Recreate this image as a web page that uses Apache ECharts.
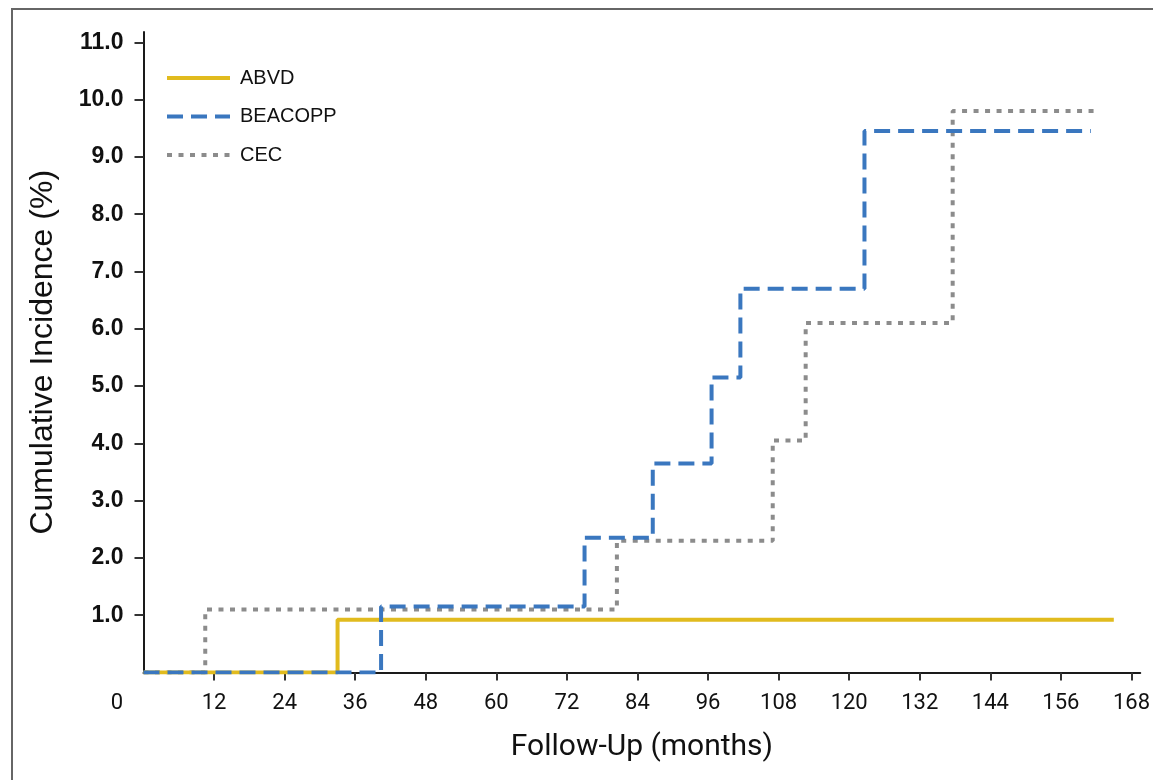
<!DOCTYPE html>
<html>
<head>
<meta charset="utf-8">
<script src="https://cdn.jsdelivr.net/npm/echarts@6/dist/echarts.min.js"></script>
<style>
  html, body { margin: 0; padding: 0; background: #fff; }
  #chart { width: 1153px; height: 780px; }
</style>
</head>
<body>
<div id="chart"></div>
<script>
// cumulative incidence (%) by follow-up month
var abvdMonths = [0, 33, 165];
var abvdIncidence = [0, 0.92, 0.92];

var beacoppMonths = [0, 40.4, 75, 86.6, 96.6, 101.5, 122.6, 161.1];
var beacoppIncidence = [0, 1.15, 2.35, 3.65, 5.15, 6.7, 9.45, 9.45];

var cecMonths = [0, 10.5, 80.5, 107, 112.6, 137.6, 162.2];
var cecIncidence = [0, 1.1, 2.3, 4.05, 6.1, 9.8, 9.8];

var xTicks = [12, 24, 36, 48, 60, 72, 84, 96, 108, 120, 132, 144, 156, 168];
var yTicks = [1, 2, 3, 4, 5, 6, 7, 8, 9, 10, 11];

function pairs(xs, ys) {
  return xs.map(function (x, i) { return [x, ys[i]]; });
}

var chart = echarts.init(document.getElementById('chart'));

var axisColor = '#1a1a1a';

var option = {
  animation: false,
  backgroundColor: '#fff',
  grid: {left: 143.5, right: 10, top: 32, bottom: 107.5},
  legend: {
    orient: 'vertical',
    left: 160,
    top: 63,
    itemWidth: 63,
    itemHeight: 20,
    itemGap: 18.5,
    itemStyle: {opacity: 0},
    lineStyle: {width: 4},
    textStyle: {fontFamily: 'Liberation Sans', fontSize: 20, color: '#111', padding: [0, 0, 0, 5]},
    data: ['ABVD', 'BEACOPP', 'CEC']
  },
  xAxis: {
    type: 'value',
    min: 0,
    max: 169.5,
    name: 'Follow-Up (months)',
    nameLocation: 'middle',
    nameGap: 60,
    nameTextStyle: {fontFamily: 'Roboto', fontSize: 30, color: '#111'},
    splitLine: {show: false},
    axisLine: {lineStyle: {color: axisColor, width: 2}},
    axisTick: {
      length: 8,
      lineStyle: {color: '#333', width: 2},
      customValues: xTicks
    },
    axisLabel: {
      margin: 20,
      fontFamily: 'Roboto',
      fontSize: 22,
      color: '#111',
      customValues: [0].concat(xTicks),
      formatter: function (v) {
        return v === 0 ? '{z|0}' : String(v);
      },
      rich: {
        z: {fontFamily: 'Roboto', fontSize: 22, color: '#111', padding: [0, 53, 0, 0]}
      }
    }
  },
  yAxis: {
    type: 'value',
    min: 0,
    max: 11.18,
    name: 'Cumulative Incidence (%)',
    nameLocation: 'middle',
    nameGap: 84,
    nameTextStyle: {fontFamily: 'Liberation Sans', fontSize: 32, color: '#111'},
    splitLine: {show: false},
    axisLine: {show: true, lineStyle: {color: axisColor, width: 2}},
    axisTick: {
      show: true,
      length: 9,
      lineStyle: {color: '#333', width: 2},
      customValues: yTicks
    },
    axisLabel: {
      margin: 20,
      fontFamily: 'Liberation Sans',
      fontWeight: 'bold',
      fontSize: 23,
      color: '#111',
      customValues: yTicks,
      formatter: function (v) { return v.toFixed(1); }
    }
  },
  series: [
    {
      name: 'ABVD',
      type: 'line',
      step: 'end',
      showSymbol: false,
      symbol: 'none',
      z: 3,
      lineStyle: {color: '#E1BB1E', width: 4},
      itemStyle: {color: '#E1BB1E'},
      data: pairs(abvdMonths, abvdIncidence)
    },
    {
      name: 'BEACOPP',
      type: 'line',
      step: 'end',
      showSymbol: false,
      symbol: 'none',
      z: 4,
      lineStyle: {color: '#3A77BF', width: 4, type: [16, 8]},
      itemStyle: {color: '#3A77BF'},
      data: pairs(beacoppMonths, beacoppIncidence)
    },
    {
      name: 'CEC',
      type: 'line',
      step: 'end',
      showSymbol: false,
      symbol: 'none',
      z: 2,
      lineStyle: {color: '#8C8C8C', width: 4, type: [5, 6.5]},
      itemStyle: {color: '#8C8C8C'},
      data: pairs(cecMonths, cecIncidence)
    }
  ],
  graphic: [
    {
      type: 'polyline',
      silent: true,
      shape: {points: [[12, 782], [12, 9], [1155, 9]]},
      style: {stroke: '#666', lineWidth: 2, fill: null}
    }
  ]
};

chart.setOption(option);
</script>
</body>
</html>
